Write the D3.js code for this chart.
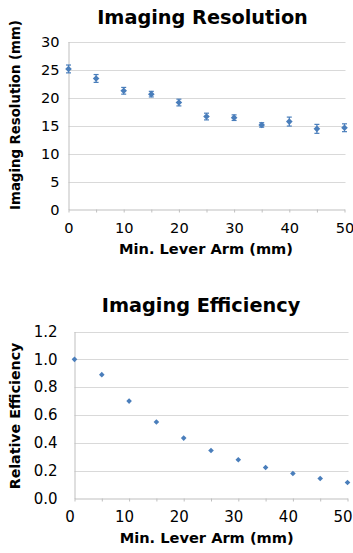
<!DOCTYPE html>
<html>
<head>
<meta charset="utf-8">
<script src="https://cdn.jsdelivr.net/npm/d3@7"></script>
<style>
  body { margin: 0; background: #fff; }
  svg text { font-family: "DejaVu Sans", Verdana, sans-serif; fill: #000; }
</style>
</head>
<body>
<div id="chart"></div>
<script>
// Min. lever arm (mm)
const leverArm = [0, 5, 10, 15, 20, 25, 30, 35, 40, 45, 50];

// Imaging resolution (mm) with error
const resolution = [25.1, 23.4, 21.2, 20.6, 19.1, 16.6, 16.4, 15.1, 15.7, 14.4, 14.6];
const resolutionErr = [0.7, 0.7, 0.6, 0.5, 0.6, 0.6, 0.5, 0.4, 0.8, 0.8, 0.7];

// Relative efficiency
const efficiency = [1.0, 0.89, 0.70, 0.55, 0.434, 0.345, 0.278, 0.223, 0.18, 0.144, 0.115];

const resTicks = [0, 5, 10, 15, 20, 25, 30];
const effTicks = [0, 0.2, 0.4, 0.6, 0.8, 1.0, 1.2];
const xTicks = [0, 10, 20, 30, 40, 50];
const xMinorTicks = [0, 5, 10, 15, 20, 25, 30, 35, 40, 45, 50];

const W = 353, H = 553;
const blue = '#4a7ebb';
const gridColor = '#d9d9d9';
const axisColor = '#bfbfbf';

const svg = d3.select('#chart').append('svg')
  .attr('width', W)
  .attr('height', H);

function drawPanel(opts) {
  const x = d3.scaleLinear().domain([0, 50]).range([opts.left, opts.right]);
  const y = d3.scaleLinear().domain(opts.yDomain).range([opts.bottom, opts.top]);
  const g = svg.append('g');

  // gridlines
  g.selectAll('.grid')
    .data(opts.yTicks.filter(d => d !== 0))
    .enter()
    .append('line')
    .attr('x1', opts.left)
    .attr('x2', opts.right + 1)
    .attr('y1', d => Math.round(y(d)) + 0.5)
    .attr('y2', d => Math.round(y(d)) + 0.5)
    .attr('stroke', gridColor)
    .attr('stroke-width', 1);

  // y axis
  const yAxis = d3.axisLeft(y)
    .tickValues(opts.yTicks)
    .tickFormat(opts.yFormat)
    .tickSize(0)
    .tickPadding(opts.yPad);
  const ya = g.append('g')
    .attr('transform', `translate(${opts.left},0)`)
    .call(yAxis);
  ya.select('.domain').attr('stroke', axisColor);
  ya.selectAll('text').style('font-size', opts.tickFont);

  // x axis
  const xAxis = d3.axisBottom(x)
    .tickValues(xMinorTicks)
    .tickFormat(d => xTicks.includes(d) ? d : '')
    .tickSize(3)
    .tickSizeOuter(0)
    .tickPadding(10);
  const xa = g.append('g')
    .attr('transform', `translate(0,${opts.bottom})`)
    .call(xAxis);
  xa.select('.domain').attr('stroke', axisColor);
  xa.selectAll('line').attr('stroke', axisColor);
  xa.selectAll('text')
    .style('font-size', opts.tickFont)
    .attr('dx', opts.labelShift);

  // error bars
  if (opts.err) {
    const eb = g.selectAll('.err')
      .data(leverArm.map((d, i) => ({ x: d, y: opts.values[i], e: opts.err[i] })))
      .enter()
      .append('g')
      .attr('class', 'err')
      .attr('stroke', blue)
      .attr('stroke-width', 1.2);
    eb.append('line')
      .attr('x1', d => x(d.x)).attr('x2', d => x(d.x))
      .attr('y1', d => y(d.y - d.e)).attr('y2', d => y(d.y + d.e));
    eb.append('line')
      .attr('x1', d => x(d.x) - 2.5).attr('x2', d => x(d.x) + 2.5)
      .attr('y1', d => y(d.y - d.e)).attr('y2', d => y(d.y - d.e));
    eb.append('line')
      .attr('x1', d => x(d.x) - 2.5).attr('x2', d => x(d.x) + 2.5)
      .attr('y1', d => y(d.y + d.e)).attr('y2', d => y(d.y + d.e));
  }

  // markers
  const diamond = d3.symbol().type(d3.symbolDiamond2).size(opts.markerSize);
  g.selectAll('.pt')
    .data(leverArm.map((d, i) => ({ x: d, y: opts.values[i] })))
    .enter()
    .append('path')
    .attr('class', 'pt')
    .attr('d', diamond)
    .attr('transform', d => `translate(${x(d.x)},${y(d.y)})`)
    .attr('fill', blue);

  // titles
  svg.append('text')
    .attr('x', opts.titleX)
    .attr('y', opts.titleY)
    .attr('text-anchor', 'middle')
    .style('font-size', '19.3px')
    .style('font-weight', 'bold')
    .text(opts.title);

  svg.append('text')
    .attr('x', opts.xTitleX)
    .attr('y', opts.xTitleY)
    .attr('text-anchor', 'middle')
    .style('font-size', '14.6px')
    .style('font-weight', 'bold')
    .text('Min. Lever Arm (mm)');

  svg.append('text')
    .attr('transform', `translate(${opts.yTitleX},${opts.yTitleY}) rotate(-90)`)
    .attr('text-anchor', 'middle')
    .style('font-size', opts.yTitleFont)
    .style('font-weight', 'bold')
    .text(opts.yTitle);
}

drawPanel({
  left: 68.5, right: 344.5, top: 41.5, bottom: 209.5,
  yDomain: [0, 30], yTicks: resTicks, yFormat: d3.format('d'),
  values: resolution, err: resolutionErr, markerSize: 28,
  labelShift: 0, yPad: 9, tickFont: '14.6px',
  title: 'Imaging Resolution', titleX: 202.5, titleY: 24,
  xTitleX: 206, xTitleY: 254,
  yTitle: 'Imaging Resolution (mm)', yTitleX: 19.5, yTitleY: 115, yTitleFont: '13.3px'
});

drawPanel({
  left: 74.5, right: 347.5, top: 331.5, bottom: 498.5,
  yDomain: [0, 1.2], yTicks: effTicks, yFormat: d3.format('.1f'),
  values: efficiency, err: null, markerSize: 20,
  labelShift: -5, yPad: 17, tickFont: '15px',
  title: 'Imaging Efficiency', titleX: 201, titleY: 311.5,
  xTitleX: 206.7, xTitleY: 543,
  yTitle: 'Relative Efficiency', yTitleX: 19.5, yTitleY: 416, yTitleFont: '14.2px'
});
</script>
</body>
</html>
